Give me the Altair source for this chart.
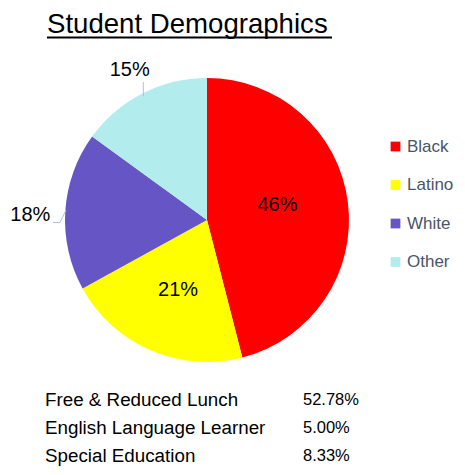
import altair as alt
import pandas as pd

groups = ["Black", "Latino", "White", "Other"]
shares = [46, 21, 18, 15]
share_labels = ["46%", "21%", "18%", "15%"]
colors = ["#FF0000", "#FFFF00", "#6655C4", "#B2ECEC"]

table_labels = ["Free & Reduced Lunch", "English Language Learner", "Special Education"]
table_values = ["52.78%", "5.00%", "8.33%"]
title_text = "Student Demographics"

FONT = "Liberation Sans"

pie_df = pd.DataFrame({"Group": groups, "Share": shares, "Label": share_labels,
                       "idx": list(range(len(groups)))})
tab_df = pd.DataFrame({"row": list(range(len(table_labels))), "name": table_labels,
                       "val": table_values})
title_df = pd.DataFrame({"t": [title_text]})

CX, CY, R = 199, 212, 142

base = alt.Chart(pie_df).encode(
    theta=alt.Theta("Share:Q", stack=True),
    order=alt.Order("idx:Q"),
)

arcs = base.mark_arc(outerRadius=R).encode(
    x=alt.value(CX), y=alt.value(CY),
    color=alt.Color("Group:N", sort=groups,
                    scale=alt.Scale(domain=groups, range=colors),
                    legend=alt.Legend(title=None, orient="none", legendX=379, legendY=130,
                                      symbolType="square", symbolSize=95, symbolStrokeWidth=0,
                                      labelFontSize=17, labelFont=FONT, labelColor="#4A5568",
                                      rowPadding=20.5, labelOffset=3)),
)

def label_layer(group, radius, dx=0, dy=0):
    return base.mark_text(radius=radius, fontSize=20, font=FONT, color="black",
                          dx=dx, dy=dy).encode(
        x=alt.value(CX), y=alt.value(CY),
        text=alt.condition(f"datum.Group == '{group}'", "Label:N", alt.value("")),
    )

lab_black = label_layer("Black", 72, dx=-1, dy=-6)
lab_latino = label_layer("Latino", 78, dx=2, dy=-2)
lab_white = label_layer("White", 177, dx=0, dy=6)
lab_other = label_layer("Other", 168, dx=-1, dy=0)

LEAD = "#B4C0D4"
leader1 = alt.Chart(title_df).mark_rule(color=LEAD, strokeWidth=1).encode(
    x=alt.value(45), x2=alt.value(52), y=alt.value(214.5), y2=alt.value(214.5))
leader2 = alt.Chart(title_df).mark_rule(color=LEAD, strokeWidth=1).encode(
    x=alt.value(52), x2=alt.value(58), y=alt.value(214.5), y2=alt.value(202))
leader3 = alt.Chart(title_df).mark_rule(color=LEAD, strokeWidth=1).encode(
    x=alt.value(135.3), x2=alt.value(135.3), y=alt.value(74), y2=alt.value(88))

title = alt.Chart(title_df).mark_text(align="left", baseline="alphabetic", fontSize=27.6,
                                      font=FONT, color="black").encode(
    x=alt.value(39), y=alt.value(25), text="t:N")
underline = alt.Chart(title_df).mark_rule(color="black", strokeWidth=2).encode(
    x=alt.value(39), x2=alt.value(324), y=alt.value(29.5))

ysc = alt.Scale(domain=[0, 2], range=[392, 448])
tab_names = alt.Chart(tab_df).mark_text(align="left", baseline="middle", fontSize=18.8,
                                        font=FONT, color="black").encode(
    x=alt.value(37), y=alt.Y("row:Q", scale=ysc, axis=None), text="name:N")
tab_vals = alt.Chart(tab_df).mark_text(align="left", baseline="middle", fontSize=16.5,
                                       font=FONT, color="black").encode(
    x=alt.value(295), y=alt.Y("row:Q", scale=ysc, axis=None), text="val:N")

chart = alt.layer(
    arcs, lab_black, lab_latino, lab_white, lab_other, leader1, leader2, leader3,
    title, underline, tab_names, tab_vals,
).properties(
    width=449, height=459, padding=0, autosize=alt.AutoSizeParams(type="none"),
).configure_view(stroke=None)

chart.save("out.html", embed_options={"renderer": "svg", "actions": False})
